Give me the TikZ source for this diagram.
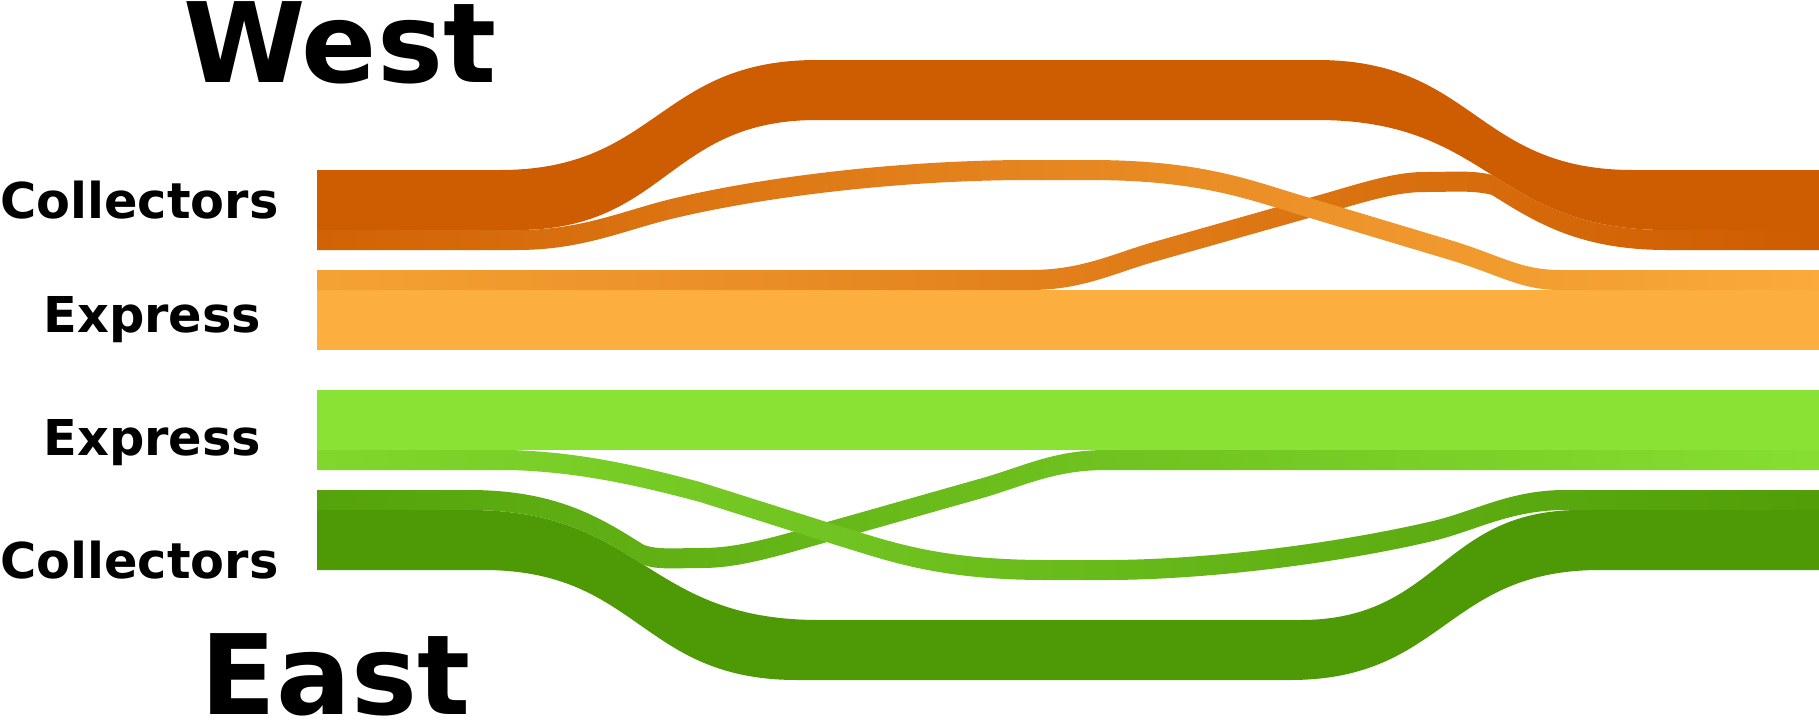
\documentclass[tikz,border=0pt]{standalone}
\usepackage{fontspec}
\setmainfont{DejaVu Sans}
\usepackage{tikz}
\definecolor{westcol}{HTML}{CE5C00}
\definecolor{westexp}{HTML}{FCAF3E}
\definecolor{eastexp}{HTML}{8AE234}
\definecolor{eastcol}{HTML}{4E9A06}

\begin{document}
\begin{tikzpicture}[
    x=0.5pt,
    y=-0.5pt,
    lane/.style={
		anchor=base west,
		inner sep=0pt,
		font=\fontsize{24.7}{30}\selectfont\bfseries
	},
	region/.style={
		anchor=base west,
		inner sep=0pt,
		text depth=0pt,
		font=\fontsize{55.5}{66}\selectfont\bfseries
	},
	flow/.style 2 args={
		left color=#1,
		right color=#2
	}
  ]
  \useasboundingbox (0,0) rectangle (1819,723);

  % We start by placing the main bands
  \fill [westcol] (317,170) -- (500,170) .. controls (658,170) and (658,60) .. (817,60)
    -- (1317,60) .. controls (1475,60) and (1475,170) .. (1633,170) -- (1819,170)
    -- (1819,230) -- (1667,230) .. controls (1492,230) and (1492,120) .. (1317,120)
    -- (817,120) .. controls (667,120) and (667,230) .. (517,230) -- (317,230) -- cycle;

  \fill [westexp] (317,290) rectangle (1819,350);
  \fill [eastexp] (317,390) rectangle (1819,450);

  \fill [eastcol] (317,510) -- (469,510) .. controls (644,510) and (644,620) .. (819,620)
    -- (1300,620) .. controls (1440,620) and (1440,510) .. (1580,510) -- (1819,510)
    -- (1819,570) -- (1600,570) .. controls (1445,570) and (1445,680) .. (1290,680)
    -- (797,680) .. controls (640,680) and (640,570) .. (483,570) -- (317,570) -- cycle;

  % west: express to collectors
  \shade [flow={westexp!85!westcol}{westcol}]
    (317,270) -- (1030,270) .. controls (1080,270) and (1110,255) .. (1150,243)
    -- (1330,192) .. controls (1380,177) and (1402,172) .. (1425,172)
    .. controls (1452,172) and (1474,170) .. (1492,175)
    .. controls (1535.75,202.5) and (1579.5,230) .. (1667,230) -- (1819,230)
    -- (1819,250) -- (1667,250) .. controls (1579.5,250) and (1535.75,222.5) .. (1492,195)
    .. controls (1474,190) and (1452,192) .. (1425,192)
    .. controls (1402,192) and (1380,197) .. (1330,212)
    -- (1150,263) .. controls (1110,275) and (1080,290) .. (1030,290) -- (317,290) -- cycle;

  % west: collectors to express
  \shade [flow={westcol!92!westexp}{westexp!95!westcol}]
    (317,230) -- (517,230) .. controls (580,230) and (620,212) .. (667,200)
    .. controls (760,177) and (900,160) .. (1030,160) -- (1090,160)
    .. controls (1200,160) and (1250,180) .. (1300,195) -- (1450,240)
    .. controls (1500,255) and (1520,270) .. (1560,270) -- (1819,270)
    -- (1819,290) -- (1560,290) .. controls (1520,290) and (1500,275) .. (1450,260)
    -- (1300,215) .. controls (1250,200) and (1200,180) .. (1090,180) -- (1030,180)
    .. controls (900,180) and (760,197) .. (667,220)
    .. controls (620,232) and (580,250) .. (517,250) -- (317,250) -- cycle;

  % east: collectors to express
  \shade [flow={eastcol!88!eastexp}{eastexp!95!eastcol}]
    (317,490) -- (469,490) .. controls (556.5,490) and (600.25,517.5) .. (644,545)
    .. controls (658,550) and (676,548) .. (701,548)
    .. controls (726,548) and (751,544) .. (806,528)
    -- (986,477) .. controls (1026,465) and (1056,450) .. (1106,450) -- (1819,450)
    -- (1819,470) -- (1106,470) .. controls (1056,470) and (1026,485) .. (986,497)
    -- (806,548) .. controls (751,564) and (726,568) .. (701,568)
    .. controls (676,568) and (658,570) .. (644,565)
    .. controls (600.25,537.5) and (556.5,510) .. (469,510) -- (317,510) -- cycle;

  % east: express to collectors
  \shade [flow={eastexp!85!eastcol}{eastcol!95!eastexp}]
    (317,450) -- (510,450) .. controls (580,452) and (640,466) .. (700,482)
    -- (836,525) .. controls (886,540) and (936,560) .. (1046,560) -- (1106,560)
    .. controls (1200,560) and (1330,545) .. (1433,521)
    .. controls (1475,511) and (1510,490) .. (1565,490) -- (1819,490)
    -- (1819,510) -- (1565,510) .. controls (1510,510) and (1475,531) .. (1433,541)
    .. controls (1330,565) and (1200,580) .. (1106,580) -- (1046,580)
    .. controls (936,580) and (886,560) .. (836,545)
    -- (700,502) .. controls (640,486) and (580,472) .. (510,470) -- (317,470) -- cycle;

  % labels
  \node [region] (west) at (183,82) {West};
  \node [region] (east) at (200,714) {East};
  \node [lane] (wcollect) at (0,218) {Collectors};
  \node [lane] (wexpress) at (43,332) {Express};
  \node [lane] (eexpress) at (43,455) {Express};
  \node [lane] (ecollect) at (0,578) {Collectors};

\end{tikzpicture}
\end{document}
